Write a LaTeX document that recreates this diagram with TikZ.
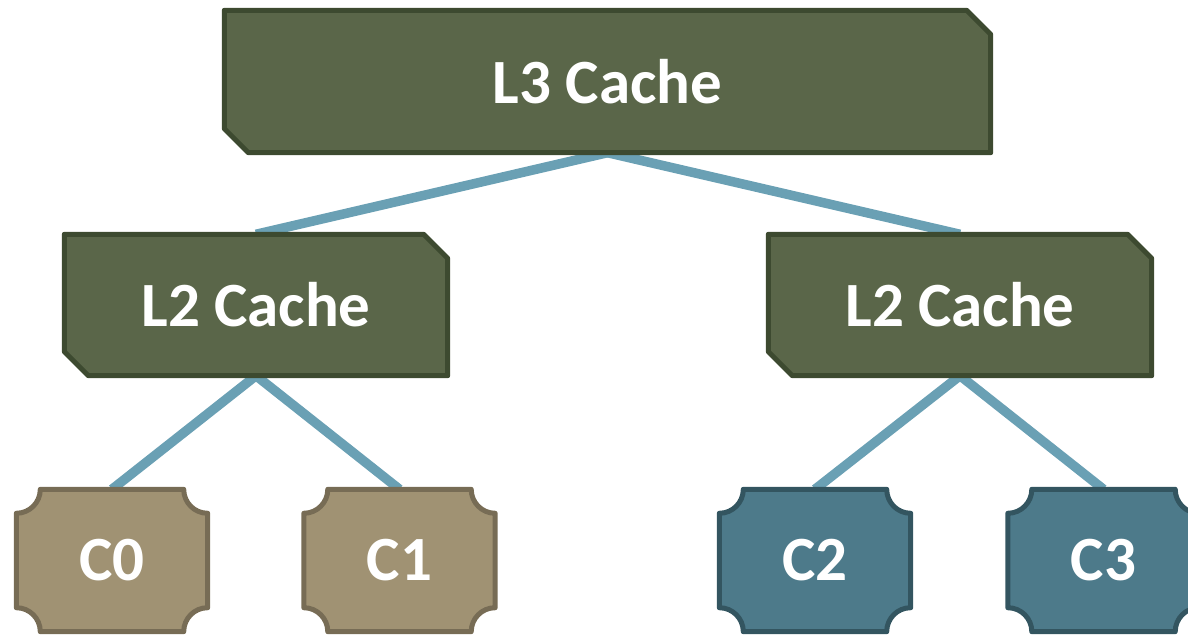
\documentclass[tikz,border=0pt]{standalone}
\usepackage{fontspec}
\setmainfont{Carlito}
\pgfdeclarelayer{links}
\pgfdeclarelayer{shapes}
\pgfsetlayers{links,shapes,main}
\definecolor{cachefill}{HTML}{5A6649}
\definecolor{cacheline}{HTML}{3D4A30}
\definecolor{tanfill}{HTML}{A09273}
\definecolor{tanline}{HTML}{776C55}
\definecolor{bluefill}{HTML}{4D7A8A}
\definecolor{blueline}{HTML}{335560}
\definecolor{linkcol}{HTML}{6AA0B4}
\tikzset{
  label/.style={inner sep=0pt, font=\fontsize{63}{70}\selectfont\bfseries, text=white},
  cachebox/.style={label, minimum width=#1, minimum height=141pt},
  corebox/.style={label, minimum width=191pt, minimum height=142pt},
  cacheshape/.style={fill=cachefill, draw=cacheline, line width=5pt, line join=round},
  tanshape/.style={fill=tanfill, draw=tanline, line width=5pt, line join=round},
  blueshape/.style={fill=bluefill, draw=blueline, line width=5pt, line join=round},
  link/.style={draw=linkcol, line width=9.5pt},
}
% cache block outline: top-right and bottom-left corners cut off
\newcommand\cutcorners[2]{%
  \draw[#2] (#1.north west) -- ([xshift=-24pt]#1.north east)
    -- ([yshift=-24pt]#1.north east) -- (#1.south east)
    -- ([xshift=24pt]#1.south west) -- ([yshift=24pt]#1.south west) -- cycle;}
% core outline: rectangle with concave rounded corners
\newcommand\plaque[2]{%
  \draw[#2] ([xshift=24pt]#1.north west) -- ([xshift=-24pt]#1.north east)
    arc[start angle=180, end angle=270, radius=24pt]
    -- ([yshift=24pt]#1.south east)
    arc[start angle=90, end angle=180, radius=24pt]
    -- ([xshift=24pt]#1.south west)
    arc[start angle=0, end angle=90, radius=24pt]
    -- ([yshift=-24pt]#1.north west)
    arc[start angle=270, end angle=360, radius=24pt] -- cycle;}
\begin{document}
\begin{tikzpicture}[x=1pt, y=1pt]
\useasboundingbox (0,0) rectangle (1188,636);
\clip (0,0) rectangle (1188,636);

\node[cachebox=766pt, minimum height=142pt] (l3) at (607.5,554.5) {L3 Cache};
\node[cachebox=383pt] (l2a) at (256,331) {L2 Cache};
\node[cachebox=383pt] (l2b) at (960,331) {L2 Cache};
\node[corebox] (c0) at (112,75.5) {C0};
\node[corebox] (c1) at (399.5,75.5) {C1};
\node[corebox] (c2) at (815,75.5) {C2};
\node[corebox] (c3) at (1103.5,75.5) {C3};

\begin{pgfonlayer}{shapes}
  \cutcorners{l3}{cacheshape}
  \cutcorners{l2a}{cacheshape}
  \cutcorners{l2b}{cacheshape}
  \plaque{c0}{tanshape}
  \plaque{c1}{tanshape}
  \plaque{c2}{blueshape}
  \plaque{c3}{blueshape}
\end{pgfonlayer}

\begin{pgfonlayer}{links}
  \draw[link] (l3.south) -- (l2a.north);
  \draw[link] (l3.south) -- (l2b.north);
  \draw[link] (l2a.south) -- (c0.north);
  \draw[link] (l2a.south) -- (c1.north);
  \draw[link] (l2b.south) -- (c2.north);
  \draw[link] (l2b.south) -- (c3.north);
\end{pgfonlayer}
\end{tikzpicture}
\end{document}
